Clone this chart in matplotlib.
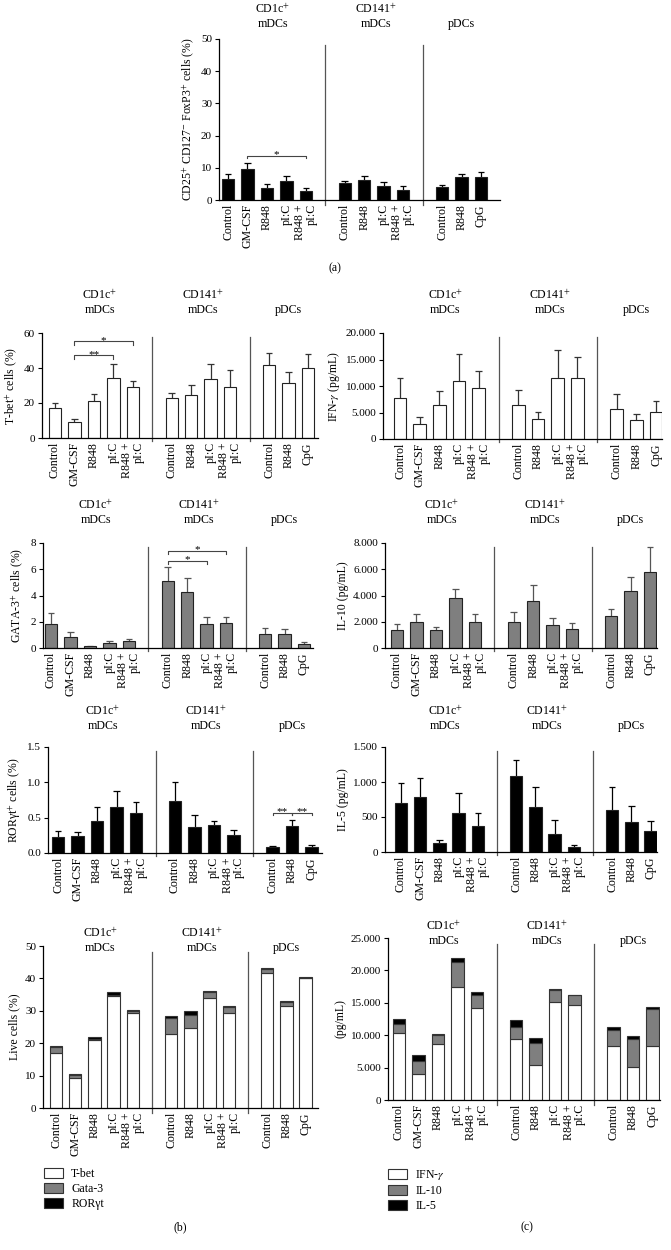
import numpy as np
import matplotlib
matplotlib.use('Agg')
import matplotlib.pyplot as plt
from matplotlib.patches import Patch
from matplotlib.ticker import FuncFormatter, MultipleLocator, FormatStrFormatter

plt.rcParams['font.family'] = ['Liberation Serif', 'DejaVu Serif']
plt.rcParams['mathtext.fontset'] = 'stix'
plt.rcParams['font.size'] = 8
plt.rcParams['axes.linewidth'] = 0.9

W, H = 671, 1250

# categories: CD1c+ mDCs (5), CD141+ mDCs (4), pDCs (3)
pos = [0, 1, 2, 3, 4, 6, 7, 8, 9, 11, 12, 13]
cats = ['Control', 'GM-CSF', 'R848', 'pI:C', 'R848 +\npI:C',
        'Control', 'R848', 'pI:C', 'R848 +\npI:C',
        'Control', 'R848', 'CpG']
groups = ['CD1c$^{+}$\nmDCs', 'CD141$^{+}$\nmDCs', 'pDCs']
group_x = [2.3, 7.6, 12.0]
seps = [5, 10]

# (a) Tregs
treg = [6.5, 9.7, 3.7, 5.8, 2.7, 5.2, 6.1, 4.5, 3.1, 3.9, 7.1, 7.0]
treg_sem = [1.5, 1.9, 1.3, 1.8, 1.0, 0.7, 1.5, 1.0, 1.1, 0.7, 1.1, 1.8]

# (b) transcription factors
tbet = [16.9, 8.9, 20.9, 34.5, 29.0, 22.6, 24.5, 33.7, 29.0, 41.6, 31.4, 40.1]
tbet_sem = [3.2, 2.2, 4.0, 7.9, 3.6, 2.9, 6.0, 8.5, 9.9, 6.9, 6.6, 7.8]
gata = [1.8, 0.85, 0.13, 0.41, 0.52, 5.1, 4.25, 1.85, 1.87, 1.05, 1.05, 0.33]
gata_sem = [0.85, 0.4, 0.03, 0.16, 0.13, 1.05, 1.05, 0.5, 0.53, 0.45, 0.37, 0.1]
ror = [0.23, 0.24, 0.45, 0.655, 0.57, 0.73, 0.375, 0.395, 0.25, 0.085, 0.385, 0.09]
ror_sem = [0.08, 0.06, 0.2, 0.225, 0.145, 0.275, 0.16, 0.06, 0.08, 0.01, 0.075, 0.025]

# (c) cytokines
ifn = [7650, 2900, 6400, 10950, 9600, 6450, 3850, 11500, 11450, 5750, 3650, 5150]
ifn_sem = [3950, 1300, 2700, 5050, 3200, 2750, 1200, 5350, 3950, 2750, 1100, 2000]
il10 = [1400, 1980, 1340, 3780, 2010, 1960, 3580, 1730, 1420, 2460, 4340, 5770]
il10_sem = [430, 590, 240, 740, 550, 810, 1200, 560, 510, 510, 1050, 1930]
il5 = [700, 780, 125, 555, 365, 1080, 640, 255, 75, 600, 435, 300]
il5_sem = [280, 280, 40, 285, 190, 240, 295, 200, 25, 330, 225, 140]

# stacked summaries
live_tbet = [16.9, 9.25, 21.0, 34.5, 29.2, 22.8, 24.8, 34.0, 29.3, 41.8, 31.6, 40.0]
live_gata = [1.9, 0.85, 0.2, 0.5, 0.7, 4.9, 4.0, 1.7, 1.9, 1.1, 1.1, 0.1]
live_ror = [0.4, 0.4, 0.6, 0.7, 0.5, 0.8, 1.2, 0.5, 0.4, 0.2, 0.4, 0.4]
st_ifn = [10300, 4000, 8700, 17500, 14200, 9400, 5350, 15200, 14700, 8300, 5050, 8300]
st_il10 = [1450, 2000, 1350, 3800, 1950, 1850, 3500, 1750, 1450, 2450, 4350, 5700]
st_il5 = [700, 900, 150, 550, 450, 1150, 650, 250, 100, 550, 450, 300]

GRAY = '#7f7f7f'

fig = plt.figure(figsize=(W / 100, H / 100), dpi=100)


def dots(v, p):
    return f'{int(round(v)):,}'.replace(',', '.')


def panel(box, x0, sp, ymax, ystep, lab_y, ylabel, fmt=None):
    l, t, r, b = box
    ax = fig.add_axes([l / W, 1 - b / H, (r - l) / W, (b - t) / H])
    ax.set_xlim((l - x0) / sp, (r - x0) / sp)
    ax.set_ylim(0, ymax)
    ax.yaxis.set_major_locator(MultipleLocator(ystep))
    if fmt is not None:
        ax.yaxis.set_major_formatter(fmt)
    for s in ['top', 'right']:
        ax.spines[s].set_visible(False)
    ax.set_xticks(pos)
    ax.set_xticklabels(cats, rotation=90, ha='center', va='top', fontsize=8.6,
                       multialignment='right', linespacing=0.95)
    ax.tick_params(axis='x', length=0, pad=3)
    ax.tick_params(axis='y', length=3, pad=2, width=0.8)
    for s in seps:
        ax.plot([s, s], [-0.03, 0.96], transform=ax.get_xaxis_transform(),
                color='#555555', lw=0.9, clip_on=False)
    ly = (b - lab_y) / (b - t)
    for g, gx in zip(groups, group_x):
        ax.text(gx, ly, g, transform=ax.get_xaxis_transform(),
                ha='center', va='bottom', linespacing=1.25, fontsize=8.6)
    ax.set_ylabel(ylabel, fontsize=8.5, labelpad=3)
    return ax


def bars(ax, means, sem, color, ecolor):
    means = np.array(means)
    tops = means + np.array(sem)
    p = np.array(pos)
    ax.vlines(p, means, tops, color=ecolor, lw=0.9, zorder=1)
    ax.hlines(tops, p - 0.17, p + 0.17, color=ecolor, lw=0.9, zorder=1)
    ax.bar(p, means, width=0.64, color=color, edgecolor='#222222', lw=0.8, zorder=2)


def bracket(ax, x1, x2, y, txt, h):
    ax.plot([x1, x1, x2, x2], [y - h, y, y, y - h], color='#444444', lw=0.8)
    ax.annotate(txt, xy=((x1 + x2) / 2, y), xytext=(0, -2.5), textcoords='offset points',
                ha='center', va='bottom', fontsize=8)


# ---- (a)
ax = panel((219, 39, 500, 200), 228, 19.46, 50, 10, 30,
           'CD25$^{+}$ CD127$^{-}$ FoxP3$^{+}$ cells (%)')
bars(ax, treg, treg_sem, 'black', 'black')
bracket(ax, 1, 4, 13.7, '*', 0.8)

# ---- T-bet
ax = panel((42, 333, 318, 438), 55, 19.46, 60, 20, 316, 'T-bet$^{+}$ cells (%)')
bars(ax, tbet, tbet_sem, 'white', '#333333')
bracket(ax, 1, 3, 47.2, '**', 2)
bracket(ax, 1, 4, 55.2, '*', 2)

# ---- IFN-g
ax = panel((383, 333, 662, 439), 400, 19.7, 20000, 5000, 316,
           'IFN-$\\gamma$ (pg/mL)', FuncFormatter(dots))
bars(ax, ifn, ifn_sem, 'white', '#333333')

# ---- GATA-3
ax = panel((43, 543, 313, 648), 51, 19.46, 8, 2, 526, 'GATA-3$^{+}$ cells (%)')
bars(ax, gata, gata_sem, GRAY, '#555555')
bracket(ax, 6, 8, 6.65, '*', 0.25)
bracket(ax, 6, 9, 7.39, '*', 0.25)

# ---- IL-10
ax = panel((385, 543, 657, 648), 397, 19.46, 8000, 2000, 526,
           'IL-10 (pg/mL)', FuncFormatter(dots))
bars(ax, il10, il10_sem, GRAY, '#555555')

# ---- RORgt
ax = panel((48, 747, 322, 853), 58, 19.5, 1.5, 0.5, 732, 'ROR\u03b3t$^{+}$ cells (%)',
           FormatStrFormatter('%.1f'))
bars(ax, ror, ror_sem, 'black', 'black')
bracket(ax, 11, 12, 0.57, '**', 0.03)
bracket(ax, 12, 13, 0.57, '**', 0.03)

# ---- IL-5
ax = panel((385, 747, 657, 852), 401, 19.2, 1500, 500, 732,
           'IL-5 (pg/mL)', FuncFormatter(dots))
bars(ax, il5, il5_sem, 'black', 'black')

# ---- Live cells stacked
ax = panel((43, 946, 318, 1108), 56, 19.2, 50, 10, 954, 'Live cells (%)')
b1 = np.array(live_tbet)
b2 = b1 + np.array(live_gata)
ax.bar(pos, live_tbet, width=0.64, color='white', edgecolor='#333333', lw=0.8)
ax.bar(pos, live_gata, bottom=b1, width=0.64, color=GRAY, edgecolor='#333333', lw=0.8)
ax.bar(pos, live_ror, bottom=b2, width=0.64, color='black', edgecolor='#333333', lw=0.8)

# ---- cytokines stacked
ax = panel((388, 938, 660, 1100), 399, 19.5, 25000, 5000, 947, '(pg/mL)',
           FuncFormatter(dots))
c1 = np.array(st_ifn)
c2 = c1 + np.array(st_il10)
ax.bar(pos, st_ifn, width=0.64, color='white', edgecolor='#333333', lw=0.8)
ax.bar(pos, st_il10, bottom=c1, width=0.64, color=GRAY, edgecolor='#333333', lw=0.8)
ax.bar(pos, st_il5, bottom=c2, width=0.64, color='black', edgecolor='#333333', lw=0.8)

# legends
def legend_at(x, y, labels):
    handles = [Patch(facecolor=c, edgecolor='#333333', lw=0.8)
               for c in ['white', GRAY, 'black']]
    fig.legend(handles, labels, loc='upper left', bbox_to_anchor=(x / W, 1 - y / H),
               frameon=False, fontsize=8.5, handlelength=1.6, handleheight=0.9,
               labelspacing=0.25, handletextpad=0.7, borderaxespad=0, borderpad=0)


legend_at(44, 1168, ['T-bet', 'Gata-3', 'ROR\u03b3t'])
legend_at(388, 1168, ['IFN-$\\gamma$', 'IL-10', 'IL-5'])

fig.text(335 / W, 1 - 268 / H, '(a)', ha='center', va='center', fontsize=8.5)
fig.text(180 / W, 1 - 1227 / H, '(b)', ha='center', va='center', fontsize=8.5)
fig.text(527 / W, 1 - 1227 / H, '(c)', ha='center', va='center', fontsize=8.5)

fig.savefig('out.png', dpi=100, facecolor='white')
